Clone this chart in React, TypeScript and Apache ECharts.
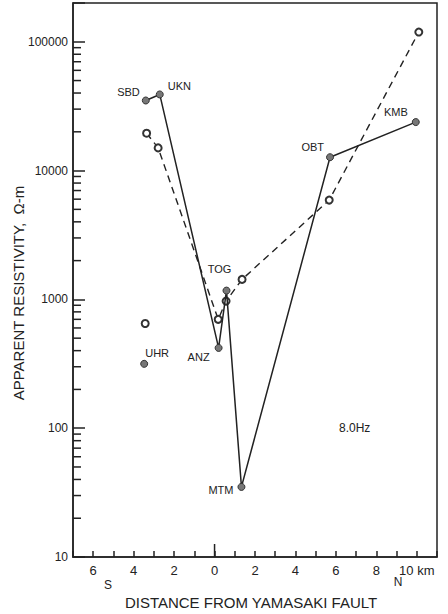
import React, { useEffect, useRef } from "react";
import * as echarts from "echarts";

// Solid line (filled circles)
const solidNames = ["SBD", "UKN", "ANZ", "TOG", "MTM", "OBT", "KMB"];
const solidX = [-3.4, -2.71, 0.2, 0.59, 1.33, 5.71, 9.95];
const solidY = [35000, 39000, 420, 1170, 35, 12700, 23800];

// Dashed line (open circles)
const dashedX = [-3.36, -2.79, 0.18, 0.57, 1.36, 5.67, 10.1];
const dashedY = [19500, 15000, 700, 970, 1430, 5900, 119000];

// Isolated station UHR
const uhrFilled = [-3.48, 316];
const uhrOpen = [-3.43, 650];

// Axis tick helpers
const xTickLabels: Record<number, string> = { [-6]: "6", [-4]: "4", [-2]: "2", 0: "0", 2: "2", 4: "4", 6: "6", 8: "8", 10: "10 km" };
const yMajorLabels = [10, 100, 1000, 10000, 100000];
const minorMantissas = [2, 3, 4, 5, 6, 7, 8, 9];
const minorDecades = [10, 100, 1000, 10000];

const FONT = "Liberation Sans, Arial, sans-serif";
const INK = "#222";

// label placement per station (position, distance, offset)
const labelPlace: Record<string, any> = {
  SBD: { position: "left", distance: 2, offset: [0, -9] },
  UKN: { position: "right", distance: 4, offset: [0, -8] },
  ANZ: { position: "left", distance: 5, offset: [0, 9] },
  TOG: { position: "top", distance: 4, offset: [-7, -8] },
  MTM: { position: "left", distance: 4, offset: [0, 3] },
  OBT: { position: "left", distance: 2, offset: [0, -10] },
  KMB: { position: "left", distance: 4, offset: [0, -10] },
};

export default function App() {
  const ref = useRef<HTMLDivElement>(null);
  useEffect(() => {
    if (!ref.current) return;
    const chart = echarts.init(ref.current, null, { renderer: "svg" });

    const minorTicks: number[][] = [];
    minorDecades.forEach((d) => minorMantissas.forEach((m) => minorTicks.push([-7, m * d])));

    const labelStyle = { fontFamily: FONT, fontSize: 11, color: INK, textBorderWidth: 0, opacity: 1 };

    const solidData = solidX.map((x, i) => ({
      value: [x, solidY[i]],
      name: solidNames[i],
      label: { show: true, formatter: solidNames[i], ...labelStyle, ...labelPlace[solidNames[i]] },
    }));

    const option: any = {
      animation: false,
      grid: { left: 73, right: 11, top: 3, bottom: 57, show: true, borderColor: INK, borderWidth: 1.5, backgroundColor: "transparent" },
      xAxis: {
        type: "value",
        min: -7,
        max: 11,
        interval: 1,
        splitLine: { show: false },
        axisLine: { show: true, onZero: false, lineStyle: { color: INK, width: 1.5 } },
        axisTick: { show: true, inside: true, length: 6, lineStyle: { color: INK, width: 1.5 } },
        axisLabel: {
          fontFamily: FONT,
          fontSize: 13,
          color: INK,
          margin: 7,
          formatter: (v: number) => xTickLabels[v] ?? "",
        },
      },
      yAxis: {
        type: "log",
        logBase: 10,
        min: 10,
        max: 200000,
        splitLine: { show: false },
        axisLine: { show: true, onZero: false, lineStyle: { color: INK, width: 1.5 } },
        axisTick: { show: true, inside: true, length: 12, lineStyle: { color: INK, width: 1.5 } },
        axisLabel: {
          fontFamily: FONT,
          fontSize: 12,
          color: INK,
          margin: 5,
          formatter: (v: number) => {
            const hit = yMajorLabels.find((m) => Math.abs(m - v) / m < 1e-6);
            return hit ? String(hit) : "";
          },
        },
      },
      series: [
        {
          type: "line",
          data: solidData,
          symbol: "circle",
          symbolSize: 7,
          itemStyle: { color: "#777", borderColor: "#333", borderWidth: 1 },
          lineStyle: { color: INK, width: 1.5 },
          z: 3,
        },
        {
          type: "line",
          data: dashedX.map((x, i) => [x, dashedY[i]]),
          symbol: "emptyCircle",
          symbolSize: 7,
          itemStyle: { color: "#333", borderWidth: 1 },
          lineStyle: { color: INK, width: 1.4, type: [7, 5] },
          z: 2,
        },
        {
          type: "scatter",
          data: [
            {
              value: uhrFilled,
              name: "UHR",
              label: { show: true, formatter: "UHR", ...labelStyle, position: "right", distance: -3, offset: [0, -11] },
            },
          ],
          symbol: "circle",
          symbolSize: 7,
          itemStyle: { color: "#777", borderColor: "#333", borderWidth: 1, opacity: 1 },
        },
        {
          type: "scatter",
          data: [uhrOpen],
          symbol: "emptyCircle",
          symbolSize: 7,
          itemStyle: { color: "#333", borderWidth: 1, opacity: 1 },
        },
        {
          type: "custom",
          coordinateSystem: "cartesian2d",
          silent: true,
          clip: false,
          encode: { x: 0, y: 1 },
          data: minorTicks,
          z: 5,
          renderItem: (_p: any, api: any) => {
            const pt = api.coord([api.value(0), api.value(1)]);
            return {
              type: "line",
              shape: { x1: pt[0], y1: pt[1], x2: pt[0] + 8, y2: pt[1] },
              style: { stroke: INK, lineWidth: 1.5 },
            };
          },
        },
        {
          type: "custom",
          coordinateSystem: "cartesian2d",
          silent: true,
          clip: false,
          encode: { x: 0, y: 1 },
          data: [[0, 10]],
          z: 5,
          renderItem: (_p: any, api: any) => {
            const pt = api.coord([api.value(0), api.value(1)]);
            return {
              type: "line",
              shape: { x1: pt[0], y1: pt[1], x2: pt[0], y2: pt[1] - 13 },
              style: { stroke: INK, lineWidth: 1.5 },
            };
          },
        },
      ],
      graphic: [
        {
          type: "text",
          x: 18,
          y: 293,
          rotation: Math.PI / 2,
          style: { text: "APPARENT RESISTIVITY,  Ω-m", fontFamily: FONT, fontSize: 15, fill: INK, align: "center", verticalAlign: "middle" },
        },
        {
          type: "text",
          x: 251,
          y: 602,
          style: { text: "DISTANCE FROM YAMASAKI FAULT", fontFamily: FONT, fontSize: 15, fill: INK, align: "center", verticalAlign: "middle" },
        },
        {
          type: "text",
          x: 108,
          y: 585,
          style: { text: "S", fontFamily: FONT, fontSize: 12, fill: INK, align: "center", verticalAlign: "middle" },
        },
        {
          type: "text",
          x: 398,
          y: 582,
          style: { text: "N", fontFamily: FONT, fontSize: 12, fill: INK, align: "center", verticalAlign: "middle" },
        },
        {
          type: "text",
          x: 339,
          y: 428,
          style: { text: "8.0Hz", fontFamily: FONT, fontSize: 12, fill: INK, align: "left", verticalAlign: "middle" },
        },
      ],
    };
    chart.setOption(option);
    return () => chart.dispose();
  }, []);
  return <div ref={ref} style={{ position: "fixed", left: 0, top: 0, width: 448, height: 614, background: "#fff" }} />;
}
